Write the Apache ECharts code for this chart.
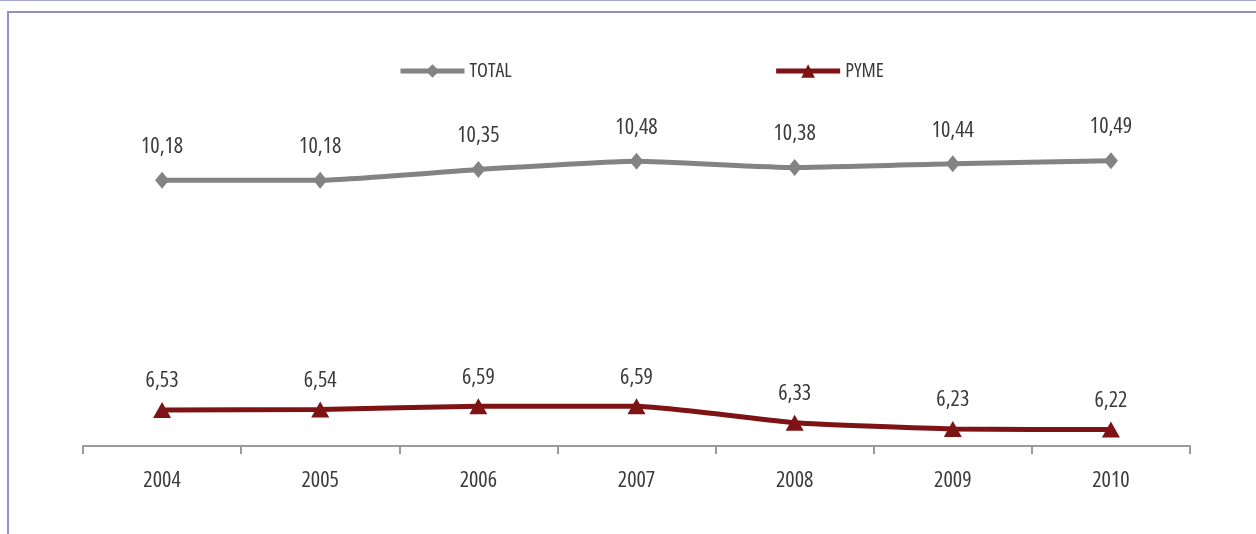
<!DOCTYPE html>
<html>
<head>
<meta charset="utf-8">
<script src="https://cdn.jsdelivr.net/npm/echarts@6/dist/echarts.min.js"></script>
<style>
  html, body { margin: 0; padding: 0; background: #fff; }
  #wrap { position: relative; width: 1256px; height: 534px; overflow: hidden; }
  #topRule { position: absolute; left: 0; top: 0; width: 1256px; height: 0; border-top: 1px solid #a3a7d2; }
  #frame { position: absolute; left: 7px; top: 11px; width: 1300px; height: 600px;
           border-left: 2px solid #8d93c8; border-top: 2px solid #8d93c8; }
  #chart { position: absolute; left: 0; top: 0; width: 1256px; height: 534px; }
</style>
</head>
<body>
<div id="wrap">
  <div id="topRule"></div>
  <div id="frame"></div>
  <div id="chart"></div>
</div>
<script>
// Years on the horizontal axis
const years = ['2004', '2005', '2006', '2007', '2008', '2009', '2010'];
// Series values
const totalValues = [10.18, 10.18, 10.35, 10.48, 10.38, 10.44, 10.49];
const pymeValues = [6.53, 6.54, 6.59, 6.59, 6.33, 6.23, 6.22];

// Narrow lettering: Open Sans with its width axis set to condensed
const FONT = '"Open Sans", sans-serif';
const STRETCH = 'condensed';
const TEXT_COLOR = '#3a3a3a';
const fmt = v => v.toFixed(2).replace('.', ',');

const textBase = { fontFamily: FONT, fontWeight: STRETCH, fontSize: 22, color: TEXT_COLOR };

const chart = echarts.init(document.getElementById('chart'), null, { renderer: 'canvas' });
chart.setOption({
  backgroundColor: 'transparent',
  animation: false,
  legend: {
    left: 393,
    top: 56,
    itemWidth: 64,
    itemHeight: 17,
    itemGap: 262,
    lineStyle: { width: 5 },
    textStyle: Object.assign({}, textBase, { fontSize: 20 }),
    data: ['TOTAL', 'PYME']
  },
  grid: { left: 83, right: 66, top: 97, bottom: 534 - 446 },
  xAxis: {
    type: 'category',
    data: years,
    boundaryGap: true,
    axisLine: { lineStyle: { color: '#9a9a9a', width: 2 } },
    axisTick: { show: true, length: 8, lineStyle: { color: '#9a9a9a', width: 2 } },
    axisLabel: Object.assign({ margin: 24 }, textBase)
  },
  yAxis: {
    type: 'value',
    min: 5.96,
    max: 11.5,
    show: false,
    splitLine: { show: false }
  },
  series: [
    {
      name: 'TOTAL',
      type: 'line',
      data: totalValues,
      smooth: 0.15,
      symbol: 'diamond',
      symbolSize: [14, 17],
      lineStyle: { color: '#838383', width: 5 },
      itemStyle: { color: '#838383' },
      label: Object.assign({
        show: true, position: 'top', distance: 14,
        formatter: p => fmt(p.value)
      }, textBase)
    },
    {
      name: 'PYME',
      type: 'line',
      data: pymeValues,
      smooth: 0.15,
      symbol: 'triangle',
      symbolSize: [18, 16],
      lineStyle: { color: '#7e1315', width: 5 },
      itemStyle: { color: '#7e1315' },
      label: Object.assign({
        show: true, position: 'top', distance: 10,
        formatter: p => fmt(p.value)
      }, textBase)
    }
  ]
});
</script>
</body>
</html>
